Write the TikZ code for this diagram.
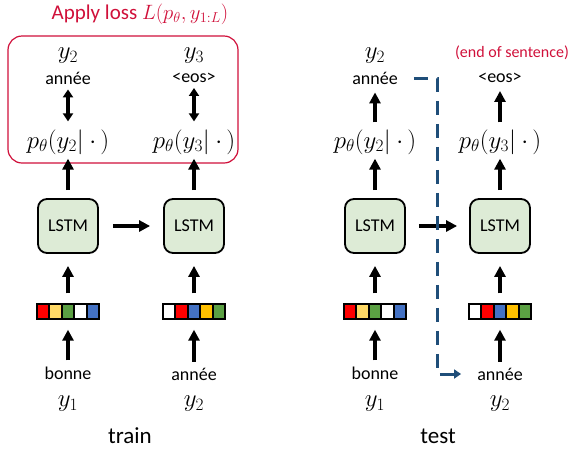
\documentclass[tikz,border=0pt]{standalone}
\usepackage[no-math]{fontspec}
\setmainfont{Carlito}
\usetikzlibrary{positioning,shapes.multipart,arrows.meta}

\definecolor{lstmgreen}{HTML}{DDEBD6}
\definecolor{lossred}{HTML}{D0103A}
\definecolor{feedblue}{HTML}{1F4E79}
\definecolor{cred}{HTML}{FF0000}
\definecolor{cyellow}{HTML}{FFD966}
\definecolor{cgreen}{HTML}{5BA043}
\definecolor{cblue}{HTML}{4472C4}
\definecolor{corange}{HTML}{FFC000}

\tikzset{
	lstm/.style={rectangle, draw=black, line width=1.8pt, rounded corners=9pt, fill=lstmgreen, minimum width=60pt, minimum height=54pt, font=\fontsize{18}{20}\selectfont},
	emb/.style={rectangle split, rectangle split horizontal, rectangle split parts=5, draw=black, line width=2pt, inner xsep=3pt, inner ysep=4.8pt},
	word/.style={font=\fontsize{18}{20}\selectfont, inner sep=1pt},
	sym/.style={font=\fontsize{24}{28}\selectfont, inner sep=1pt},
	flow/.style={line width=3.4pt, -{Triangle[length=11pt,width=11pt]}},
	match/.style={line width=3.4pt, {Triangle[length=8pt,width=10pt]}-{Triangle[length=8pt,width=10pt]}},
	feedback/.style={draw=feedblue, line width=3pt, dash pattern=on 14pt off 9pt, -{Triangle[length=7pt,width=9pt,fill=feedblue]}},
	lossbox/.style={rectangle, draw=lossred, line width=1.2pt, rounded corners=14pt}
}

\begin{document}
\begin{tikzpicture}[x=1pt, y=-1pt]
	\useasboundingbox (0,0) rectangle (570,451);

	% train
	\node (loss) [lossbox, minimum width=230pt, minimum height=127pt] at (123,99.5) {};
	\node (losstitle) [text=lossred, font=\fontsize{21}{24}\selectfont] at (140,14) {Apply loss $L(p_\theta, y_{1:L})$};

	\node (lstmA) [lstm] at (68,226) {LSTM};
	\node (lstmB) [lstm] at (194,226) {LSTM};
	\node (embA) [emb, rectangle split part fill={cred,cyellow,cgreen,white,cblue}] at (68,311.5) {};
	\node (embB) [emb, rectangle split part fill={white,cred,cblue,corange,cgreen}] at (194,311.5) {};
	\node (inA) [word] at (68,373) {bonne};
	\node (inB) [word] at (194,374) {année};
	\node (yinA) [sym] at (68,404) {$y_1$};
	\node (yinB) [sym] at (194,404) {$y_2$};
	\node (pA) [sym] at (68,142) {$p_\theta(y_2|\ \cdot\,)$};
	\node (pB) [sym] at (194,142) {$p_\theta(y_3|\ \cdot\,)$};
	\node (outA) [word] at (68,78) {année};
	\node (outB) [word] at (194,78) {\textless{}eos\textgreater{}};
	\node (ytA) [sym] at (68,56) {$y_2$};
	\node (ytB) [sym] at (194,56) {$y_3$};
	\node (train) [font=\fontsize{23}{26}\selectfont] at (130,436) {train};

	\draw[flow, shorten <=5pt, shorten >=10pt] (inA) -- (embA);
	\draw[flow, shorten <=5pt, shorten >=10pt] (inB) -- (embB);
	\draw[flow, shorten <=10pt, shorten >=12pt] (embA) -- (lstmA);
	\draw[flow, shorten <=10pt, shorten >=12pt] (embB) -- (lstmB);
	\draw[flow, shorten <=8pt, shorten >=3pt] (lstmA) -- (pA);
	\draw[flow, shorten <=8pt, shorten >=3pt] (lstmB) -- (pB);
	\draw[flow, shorten <=14pt, shorten >=13pt] (lstmA) -- (lstmB);
	\draw[match, shorten <=7pt, shorten >=4pt] (pA) -- (outA);
	\draw[match, shorten <=7pt, shorten >=4pt] (pB) -- (outB);

	% test
	\node (lstmC) [lstm] at (375,226) {LSTM};
	\node (lstmD) [lstm] at (500,226) {LSTM};
	\node (embC) [emb, rectangle split part fill={cred,cyellow,cgreen,white,cblue}] at (375,311.5) {};
	\node (embD) [emb, rectangle split part fill={white,cred,cblue,corange,cgreen}] at (500,311.5) {};
	\node (inC) [word] at (375,373) {bonne};
	\node (inD) [word] at (500,374) {année};
	\node (yinC) [sym] at (375,404) {$y_1$};
	\node (yinD) [sym] at (500,404) {$y_2$};
	\node (pC) [sym] at (375,142) {$p_\theta(y_2|\ \cdot\,)$};
	\node (pD) [sym] at (500,142) {$p_\theta(y_3|\ \cdot\,)$};
	\node (outC) [word] at (375,78) {année};
	\node (outD) [word] at (500,78) {\textless{}eos\textgreater{}};
	\node (ytC) [sym] at (375,56) {$y_2$};
	\node (eosnote) [word, text=lossred, font=\fontsize{16}{18}\selectfont] at (512,53) {(end of sentence)};
	\node (test) [font=\fontsize{23}{26}\selectfont] at (438,436) {test};
	\coordinate (gate) at (437,226);

	\draw[flow, shorten <=5pt, shorten >=10pt] (inC) -- (embC);
	\draw[flow, shorten <=5pt, shorten >=10pt] (inD) -- (embD);
	\draw[flow, shorten <=10pt, shorten >=12pt] (embC) -- (lstmC);
	\draw[flow, shorten <=10pt, shorten >=12pt] (embD) -- (lstmD);
	\draw[flow, shorten <=8pt, shorten >=3pt] (lstmC) -- (pC);
	\draw[flow, shorten <=8pt, shorten >=3pt] (lstmD) -- (pD);
	\draw[flow, shorten <=6pt, shorten >=7pt] (pC) -- (outC);
	\draw[flow, shorten <=6pt, shorten >=7pt] (pD) -- (outD);
	\draw[flow, shorten <=13pt, shorten >=12pt] (lstmC) -- (lstmD);
	\draw[feedback] ([xshift=15pt]outC.east) -| (gate) |- ([xshift=-15pt]inD.west);
\end{tikzpicture}
\end{document}
